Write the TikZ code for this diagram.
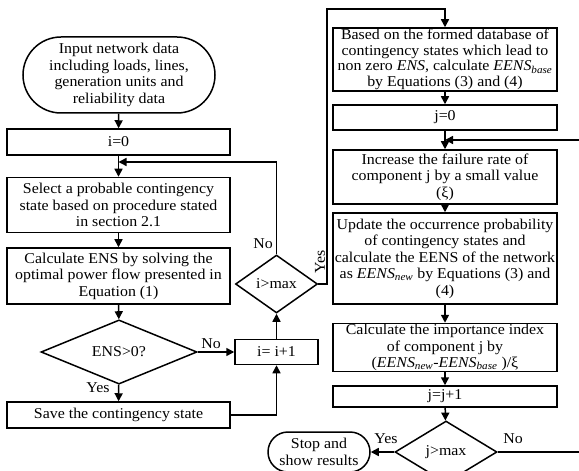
\documentclass[tikz,border=0pt]{standalone}
\usepackage{fontspec}
\setmainfont{Liberation Serif}[FakeStretch=1.06]
\usetikzlibrary{arrows.meta,shapes.geometric,shapes.misc}
\tikzset{
	flowtext/.style = {font=\fontsize{15bp}{16.5bp}\selectfont},
	flowbox/.style = {flowtext, draw=black, line width=1.5bp, rectangle,
		align=center, inner sep=0pt},
	leftbox/.style = {flowbox, minimum width=223bp},
	rightbox/.style = {flowbox, minimum width=224bp},
	term/.style = {flowbox, rounded rectangle},
	test/.style = {flowbox, diamond},
	lbl/.style = {flowtext, inner sep=0pt},
	line/.style = {line width=1.5bp, -{Triangle[length=8bp,width=8bp]}}
}

\begin{document}
\begin{tikzpicture}[x=1bp,y=-1bp]
\useasboundingbox (0,0) rectangle (579,471);
% left column
\node [term, minimum width=192bp, minimum height=76bp] (input) at (119,75) {Input network data\\including loads, lines,\\generation units and\\reliability data};
\node [leftbox, minimum height=26bp] (i0) at (118.5,142) {i=0};
\node [leftbox, minimum height=55bp] (select) at (118.5,205) {Select a probable contingency\\state based on procedure stated\\in section 2.1};
\node [leftbox, minimum height=56bp] (calcens) at (118.5,276) {Calculate ENS by solving the\\optimal power flow presented in\\Equation (1)};
\node [test, minimum width=156bp, minimum height=64bp] (ens) at (119,352) {ENS>0?};
\node [leftbox, minimum height=26bp] (save) at (118.5,415) {Save the contingency state};
\node [flowbox, minimum width=83bp, minimum height=25bp] (iinc) at (276.5,352) {i= i+1};
\node [test, minimum width=82bp, minimum height=58bp] (imax) at (276.5,284) {i>max};
% right column
\node [rightbox, minimum height=63bp, font=\fontsize{15bp}{15.5bp}\selectfont] (based) at (445,59.5) {Based on the formed database of\\contingency states which lead to\\non zero \textit{ENS}, calculate \textit{EENS}\textsubscript{\textit{base}}\\by Equations (3) and (4)};
\node [rightbox, minimum height=25bp] (j0) at (445,117.5) {j=0};
\node [rightbox, minimum height=54bp] (increase) at (445,177) {Increase the failure rate of\\component j by a small value\\(ξ)};
\node [rightbox, minimum height=91bp] (update) at (445,258.5) {Update the occurrence probability\\of contingency states and\\calculate the EENS of the network\\as \textit{EENS}\textsubscript{\textit{new}} by Equations (3) and\\(4)};
\node [rightbox, minimum height=48bp] (calcidx) at (445,347.5) {Calculate the importance index\\of component j by\\(\textit{EENS}\textsubscript{\textit{new}}-\textit{EENS}\textsubscript{\textit{base}} )/ξ};
\node [rightbox, minimum height=21bp] (jinc) at (445,396.5) {j=j+1};
\node [test, minimum width=102bp, minimum height=62bp] (jmax) at (446,452) {j>max};
\node [term, minimum width=102bp, minimum height=40bp] (stop) at (319,452) {Stop and\\show results};
% joints and loose ends
\coordinate (iback) at (118.5,162);
\coordinate (yesturn) at (327,9);
\coordinate (jback) at (445,140);
\coordinate (jin) at (579,140);
\coordinate (jout) at (579,452);
% connectors, left
\draw [line] (input) -- (i0);
\draw [line] (i0) -- (select);
\draw [line] (select) -- (calcens);
\draw [line] (calcens) -- (ens);
\draw [line] (ens) -- (save);
\draw [line] (ens.east) -- (iinc.west);
\draw [line] (save.east) -| (iinc.south);
\draw [line] (iinc) -- (imax);
\draw [line] (imax.north) |- (iback);
\draw [line] (imax.east) -| (yesturn) -| (based.north);
% connectors, right
\draw [line] (based) -- (j0);
\draw [line] (j0) -- (increase);
\draw [line] (jin) -- (jback);
\draw [line] (increase) -- (update);
\draw [line] (update) -- (calcidx);
\draw [line] (calcidx) -- (jinc);
\draw [line] (jinc) -- (jmax);
\draw [line] (jmax.west) -- (stop.east);
\draw [line width=1.5bp] (jmax.east) -- (jout);
% labels
\node [lbl] (noens) at (211,344) {No};
\node [lbl] (yesens) at (98,388) {Yes};
\node [lbl] (noimax) at (263,244) {No};
\node [lbl, rotate=90] (yesimax) at (320,262) {Yes};
\node [lbl] (yesjmax) at (386,439) {Yes};
\node [lbl] (nojmax) at (513,439) {No};
\end{tikzpicture}
\end{document}
